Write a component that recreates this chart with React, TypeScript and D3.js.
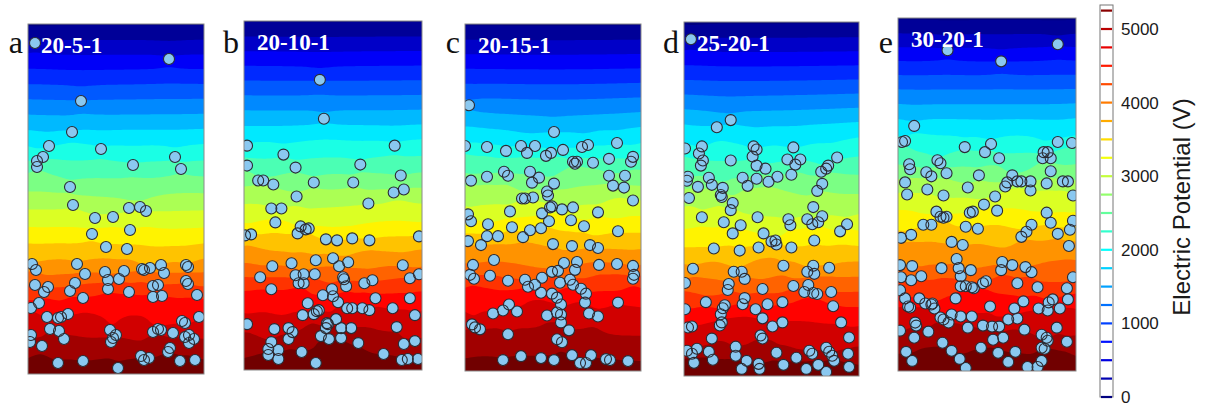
import React, { useMemo } from "react";
import * as d3 from "d3";

// particle centres: x from the left wall, y = depth from the top electrode (µm)
const particles20_5_1 = [
  [7,19],[141,35],[53,77],[44,108],[21,122],[73,125],[15,133],[9,137],[9,143],[147,133],[153,145],[105,141],
  [42,163],[45,181],[101,184],[112,183],[118,187],[67,194],[85,193],[64,210],[102,206],[78,223],[99,225],
  [4,240],[8,246],[49,240],[57,250],[77,248],[80,256],[96,247],[91,255],[114,245],[116,246],[122,244],[133,241],
  [136,249],[158,241],[160,243],[7,261],[20,263],[16,268],[47,259],[42,267],[55,274],[80,265],[101,268],[125,262],
  [130,261],[125,273],[134,272],[158,257],[160,260],[169,271],[11,279],[3,284],[19,293],[30,294],[33,293],[40,290],
  [22,305],[31,307],[36,315],[3,311],[2,318],[14,322],[82,306],[88,311],[85,314],[83,318],[125,308],[130,305],
  [133,306],[145,309],[154,297],[157,299],[171,293],[157,313],[161,311],[161,319],[166,315],[142,324],[140,328],
  [113,332],[116,336],[121,334],[152,337],[167,336],[30,339],[55,337],[90,344],
];
const particles20_10_1 = [
  [75,59],[79,98],[3,125],[39,134],[149,125],[3,145],[51,147],[115,144],[155,155],[14,160],[19,160],[29,164],
  [69,162],[108,162],[148,172],[158,169],[52,176],[123,183],[27,188],[37,188],[31,202],[56,206],[53,213],[61,209],
  [64,208],[1,215],[7,214],[81,219],[92,220],[107,218],[124,220],[173,216],[28,246],[47,243],[71,240],[88,238],
  [94,246],[103,242],[157,245],[16,257],[51,255],[59,254],[70,254],[54,263],[59,263],[98,257],[99,259],[101,266],
  [119,263],[127,260],[164,258],[173,254],[27,269],[78,275],[87,269],[88,276],[93,282],[63,283],[58,295],[69,294],
  [72,291],[74,290],[102,288],[107,288],[117,288],[124,290],[130,278],[147,288],[164,278],[169,295],[3,304],[30,309],
  [44,308],[48,312],[44,319],[82,303],[81,308],[83,304],[76,316],[84,319],[91,299],[96,308],[106,308],[96,318],
  [113,323],[151,307],[27,322],[24,329],[24,335],[34,330],[34,339],[57,332],[71,343],[138,334],[158,324],[169,321],
  [156,340],[162,339],[172,339],
];
const particles20_15_1 = [
  [4,82],[89,109],[0,123],[22,124],[41,128],[56,123],[62,130],[70,123],[81,133],[86,130],[98,127],[117,124],
  [123,122],[152,120],[108,139],[110,141],[112,139],[128,140],[144,136],[168,134],[166,139],[6,158],[22,154],
  [39,149],[43,153],[65,149],[67,160],[74,155],[89,161],[82,169],[83,173],[57,176],[60,176],[68,175],[144,153],
  [148,163],[159,165],[160,153],[168,178],[3,192],[6,199],[23,202],[45,189],[47,205],[65,208],[58,215],[76,206],
  [77,191],[85,185],[87,184],[84,199],[97,187],[108,185],[106,198],[119,204],[133,190],[153,209],[3,219],[16,223],
  [22,214],[33,214],[88,222],[107,224],[125,223],[133,226],[8,243],[5,253],[9,257],[25,254],[29,238],[43,259],
  [60,258],[63,265],[70,263],[77,256],[76,271],[87,250],[93,249],[99,241],[112,240],[95,261],[105,258],[110,248],
  [108,263],[116,267],[121,272],[134,243],[152,242],[168,244],[169,253],[168,257],[87,272],[92,276],[96,283],
  [120,281],[153,281],[28,292],[38,289],[44,283],[52,290],[82,294],[92,291],[96,293],[96,301],[124,292],[133,295],
  [7,303],[10,306],[15,308],[43,313],[92,318],[97,321],[104,309],[38,339],[56,335],[76,337],[89,339],[107,334],
  [115,342],[121,342],[126,334],[141,338],[145,339],[163,340],
];
const particles25_20_1 = [
  [7,17],[33,104],[47,97],[1,125],[18,123],[15,130],[19,137],[17,142],[47,137],[70,123],[73,126],[69,133],
  [73,142],[82,145],[110,124],[104,136],[117,136],[112,141],[154,134],[145,142],[143,145],[138,148],[4,153],
  [3,157],[25,154],[28,161],[14,163],[39,164],[37,171],[38,173],[5,174],[59,154],[64,162],[73,155],[85,158],
  [94,153],[108,151],[139,160],[134,167],[49,179],[47,186],[18,193],[40,198],[57,201],[49,209],[74,193],[80,209],
  [88,217],[92,216],[93,220],[75,223],[56,226],[30,224],[105,195],[107,201],[108,223],[124,195],[130,183],[139,192],
  [135,198],[129,200],[131,216],[157,207],[164,200],[9,244],[1,258],[50,247],[58,247],[61,254],[45,259],[44,265],
  [79,264],[100,241],[110,261],[124,247],[130,241],[131,249],[146,243],[125,260],[121,267],[130,268],[134,269],
  [148,267],[22,277],[41,280],[39,283],[61,273],[59,279],[72,284],[84,279],[99,277],[37,289],[38,297],[36,300],
  [79,293],[89,301],[99,297],[150,281],[158,297],[1,284],[4,302],[8,301],[28,313],[52,321],[77,310],[79,313],
  [166,312],[3,325],[8,328],[13,323],[25,326],[29,334],[10,337],[52,330],[58,343],[63,335],[75,338],[76,343],
  [93,327],[100,339],[113,332],[123,343],[126,325],[129,328],[135,339],[143,322],[146,326],[149,330],[151,335],
  [143,346],[165,328],[166,341],
];
const particles30_20_1 = [
  [49,32],[158,26],[102,43],[16,107],[4,123],[7,122],[66,128],[86,133],[92,125],[100,139],[144,133],[148,133],
  [143,139],[151,139],[158,123],[172,124],[11,145],[12,150],[39,141],[42,144],[48,154],[28,153],[33,157],[7,163],
  [9,175],[29,170],[45,176],[69,168],[80,156],[106,167],[108,163],[113,156],[118,162],[122,162],[131,162],[131,171],
  [147,164],[151,152],[163,162],[168,162],[173,176],[38,192],[42,197],[45,198],[48,197],[25,205],[33,205],[71,193],
  [74,192],[85,185],[96,177],[98,191],[67,207],[79,209],[122,217],[127,212],[132,205],[147,193],[151,203],[158,214],
  [170,210],[169,226],[173,201],[3,218],[13,215],[53,222],[64,225],[2,245],[3,257],[14,246],[13,260],[23,256],
  [43,248],[58,239],[60,248],[62,256],[62,266],[67,266],[73,267],[75,268],[72,250],[84,263],[87,261],[103,242],
  [102,250],[113,245],[118,263],[126,247],[132,252],[138,267],[167,268],[173,257],[2,270],[7,278],[10,286],[12,287],
  [21,278],[27,283],[33,284],[34,283],[36,288],[42,297],[45,299],[50,302],[53,294],[57,278],[62,296],[73,296],
  [91,286],[115,288],[124,281],[139,288],[148,290],[149,282],[153,279],[160,288],[168,279],[2,310],[16,317],
  [17,302],[18,305],[30,311],[44,322],[53,330],[61,338],[67,347],[69,307],[82,327],[84,305],[93,306],[100,306],
  [94,319],[104,317],[99,332],[109,299],[118,298],[116,331],[109,341],[125,309],[142,314],[147,317],[148,320],
  [142,327],[145,328],[157,307],[167,321],[8,331],[14,340],[128,346],[138,346],[142,340],
];

const panelNames = ["20-5-1", "20-10-1", "20-15-1", "25-20-1", "30-20-1"];
const panelLetters = ["a", "b", "c", "d", "e"];
const panelParticles = [particles20_5_1, particles20_10_1, particles20_15_1, particles25_20_1, particles30_20_1];

const knotPotential = [0, 2000, 3300, 4650, 5300];
const knotDepth20_5_1 = [0, 0.337, 0.583, 0.81, 1];
const knotDepth20_10_1 = [0, 0.332, 0.576, 0.8, 1];
const knotDepth20_15_1 = [0, 0.326, 0.565, 0.8, 1];
const knotDepth25_20_1 = [0, 0.314, 0.6, 0.83, 1];
const knotDepth30_20_1 = [0, 0.31, 0.55, 0.81, 1];
const panelKnots = [knotDepth20_5_1, knotDepth20_10_1, knotDepth20_15_1, knotDepth25_20_1, knotDepth30_20_1];

const colorbarTicks = [0, 1000, 2000, 3000, 4000, 5000];
const vMax = 5300;
const levelStep = 250;
const levels = d3.range(0, vMax, levelStep);

const W = 1206, H = 410;
const cellW = 176, cellH = 350;
const boxes = [
  { x: 28, y: 24, w: 176, h: 350 },
  { x: 244, y: 21, w: 178, h: 349 },
  { x: 465, y: 24, w: 176, h: 347 },
  { x: 684, y: 22, w: 175, h: 354 },
  { x: 898, y: 18, w: 178, h: 353 },
];
const serif = "'Liberation Serif', 'Times New Roman', serif";
const sans = "'Liberation Sans', Arial, sans-serif";

function jet(t: number) {
  const c = (v: number) => Math.max(0, Math.min(1, v));
  const r = c(1.5 - Math.abs(4 * t - 3));
  const g = c(1.5 - Math.abs(4 * t - 2));
  const b = c(1.5 - Math.abs(4 * t - 1));
  return d3.rgb(r * 255, g * 255, b * 255).formatHex();
}

// potential on a grid: depth profile plus a small dipole disturbance around each particle
function buildField(pts: number[][], knots: number[]) {
  const profile = d3.scaleLinear().domain(knots.map(d => d * cellH)).range(knotPotential);
  const step = 2, pad = 4;
  const nx = cellW / step + 2 * pad, ny = cellH / step + 2 * pad;
  const values = new Array(nx * ny);
  const K = 10000;
  for (let j = 0; j < ny; j++) {
    for (let i = 0; i < nx; i++) {
      const x = (i - pad + 0.5) * step, y = (j - pad + 0.5) * step;
      let v = profile(y);
      for (const p of pts) {
        const dx = x - p[0], dy = y - p[1];
        const r2 = dx * dx + dy * dy + 100;
        v += K * dy / (r2 * Math.sqrt(r2));
      }
      values[j * nx + i] = v;
    }
  }
  return { values, nx, ny, step, pad };
}

export default function App() {
  const panels = useMemo(() => panelParticles.map((pts, k) => {
    const b = boxes[k];
    const x = d3.scaleLinear().domain([0, cellW]).range([b.x, b.x + b.w]);
    const y = d3.scaleLinear().domain([0, cellH]).range([b.y, b.y + b.h]);
    const f = buildField(pts, panelKnots[k]);
    const bands = d3.contours().size([f.nx, f.ny]).thresholds(levels)(f.values);
    const proj = d3.geoTransform({
      point(gx: number, gy: number) {
        (this as any).stream.point(x((gx - f.pad) * f.step), y((gy - f.pad) * f.step));
      },
    });
    const path = d3.geoPath(proj);
    return { b, x, y, bands, path, pts };
  }), []);

  const cb = d3.scaleLinear().domain([0, 5000]).range([397, 29]);
  const cbX = 1100, cbW = 13;

  return (
    <svg width={W} height={H} style={{ position: "absolute", left: 0, top: 0, background: "#fff" }}>
      <defs>
        {panels.map((p, k) => (
          <clipPath id={`clip-${k}`} key={k}>
            <rect x={p.b.x} y={p.b.y} width={p.b.w} height={p.b.h} />
          </clipPath>
        ))}
      </defs>
      {panels.map((p, k) => (
        <g key={k}>
          <g clipPath={`url(#clip-${k})`}>
            <rect x={p.b.x} y={p.b.y} width={p.b.w} height={p.b.h} fill={jet(0)} />
            {p.bands.map((c, i) => (
              <path key={i} d={p.path(c as any) || ""} fill={jet((c.value + levelStep / 2) / vMax)} />
            ))}
            <g>
              {p.pts.map((d, i) => (
                <circle key={i} cx={p.x(d[0])} cy={p.y(d[1])} r={5.5} fill="#8ac8f0" />
              ))}
            </g>
            <g>
              {p.pts.map((d, i) => (
                <circle key={i} cx={p.x(d[0])} cy={p.y(d[1])} r={5.5} fill="none" stroke="#2b2b33" strokeWidth={1.1} />
              ))}
            </g>
          </g>
          <rect x={p.b.x} y={p.b.y} width={p.b.w} height={p.b.h} fill="none" stroke="#8a8a8a" strokeWidth={1} />
          <text x={p.b.x + 13} y={p.b.y + 29} fill="#fff" fontFamily={serif} fontWeight="bold" fontSize={23}>
            {panelNames[k]}
          </text>
          <text x={p.b.x - 5} y={53} textAnchor="end" fill="#111" fontFamily={serif} fontSize={32}>
            {panelLetters[k]}
          </text>
        </g>
      ))}
      <g>
        <rect x={cbX} y={5} width={cbW} height={392} fill="#fff" stroke="#777" strokeWidth={1} />
        {levels.map((v, i) => (
          <line key={i} x1={cbX + 1} x2={cbX + cbW - 1} y1={cb(v)} y2={cb(v)} stroke={jet(v / vMax)} strokeWidth={2.2} />
        ))}
        {colorbarTicks.map((t, i) => (
          <text key={i} x={1121} y={cb(t)} dy="0.35em" fontFamily={sans} fontSize={17} fill="#1a1a1a">
            {t}
          </text>
        ))}
        <text transform={`translate(1190, 207) rotate(-90)`} textAnchor="middle" fontFamily={sans} fontSize={24} fill="#1a1a1a">
          Electric Potential (V)
        </text>
      </g>
    </svg>
  );
}
